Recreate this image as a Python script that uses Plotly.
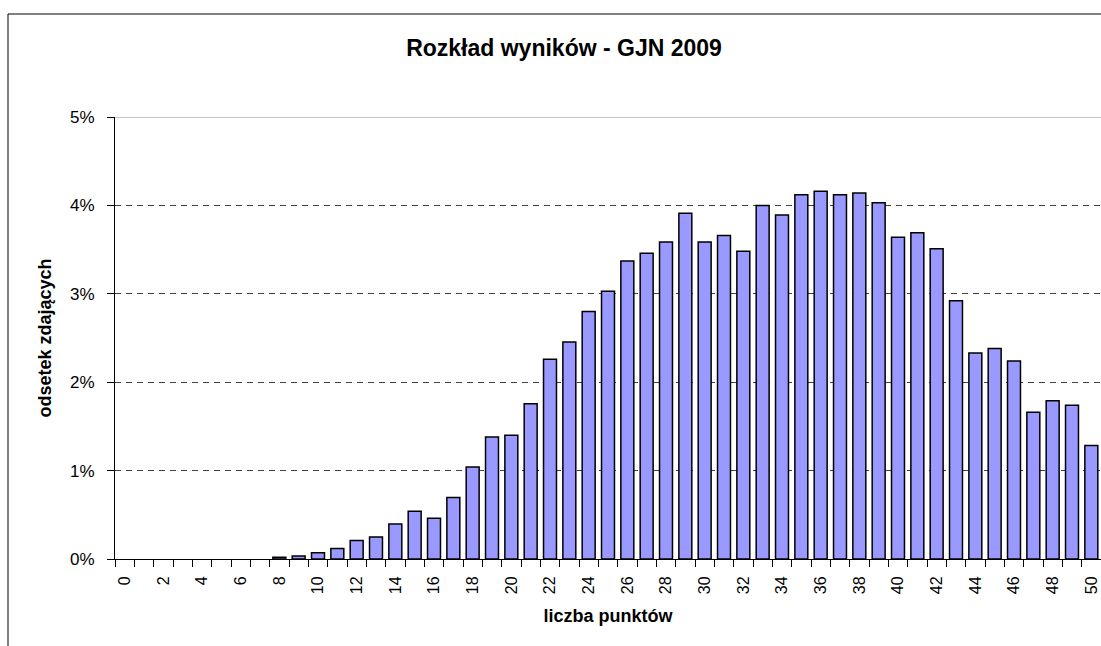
import plotly.graph_objects as go

# Data
scores = [str(i) for i in range(51)]
share_pct = [0, 0, 0, 0, 0, 0, 0, 0,
             0.02, 0.035, 0.07, 0.12, 0.21, 0.25, 0.395, 0.54, 0.46, 0.695, 1.04, 1.38,
             1.40, 1.755, 2.26, 2.455, 2.80, 3.03, 3.37, 3.46, 3.585, 3.91,
             3.585, 3.66, 3.48, 4.0, 3.89, 4.12, 4.16, 4.12, 4.14, 4.03,
             3.64, 3.69, 3.51, 2.92, 2.33, 2.38, 2.24, 1.66, 1.79, 1.74, 1.285]
tick_labels = [s if int(s) % 2 == 0 else "" for s in scores]
y_ticks = [0, 1, 2, 3, 4, 5]
y_tick_labels = ["0%", "1%", "2%", "3%", "4%", "5%"]

title_text = "Rozkład wyników - GJN 2009"
x_title = "liczba punktów"
y_title = "odsetek zdających"

FONT = "Liberation Sans, Arial, sans-serif"

fig = go.Figure()
fig.add_trace(go.Bar(
    x=scores, y=share_pct,
    marker=dict(color="#9999FF",
                line=dict(color="black", width=[0 if v == 0 else 1.5 for v in share_pct])),
    hoverinfo="x+y",
))

W, H = 1101, 646
L, R, T, B = 115, 0, 117, 87
pw = W - L - R
ph = H - T - B

fig.update_layout(
    width=W, height=H,
    margin=dict(l=L, r=R, t=T, b=B, pad=0),
    paper_bgcolor="white", plot_bgcolor="white",
    font=dict(family=FONT, color="black", size=16),
    bargap=0.33,
    showlegend=False,
    title=dict(text="<b>" + title_text + "</b>", font=dict(size=23, family=FONT),
               x=564 / W, xanchor="center", xref="container",
               y=1 - 48 / H, yanchor="middle", yref="container"),
    xaxis=dict(
        type="category",
        range=[-0.5, 50.5],
        tickmode="array", tickvals=scores, ticktext=tick_labels,
        tickangle=-90,
        tickson="boundaries",
        ticks="outside", ticklen=7, tickcolor="black", tickwidth=1,
        showline=True, linecolor="black", linewidth=1,
        showgrid=False, zeroline=False,
        tickfont=dict(size=16),
        ticklabelstandoff=10,
        title=dict(text="<b>" + x_title + "</b>", font=dict(size=18), standoff=16),
    ),
    yaxis=dict(
        range=[0, 5],
        tickmode="array", tickvals=y_ticks, ticktext=y_tick_labels,
        ticks="outside", ticklen=7, tickcolor="black", tickwidth=1,
        showline=True, linecolor="black", linewidth=1,
        showgrid=True, gridcolor="#404040", gridwidth=1, griddash="6px,5px",
        zeroline=False,
        tickfont=dict(size=17),
        ticklabelstandoff=9,
        title=dict(text="<b>" + y_title + "</b>", font=dict(size=18), standoff=13),
    ),
)

# top gridline drawn solid grey as in the reference
fig.add_shape(type="line", xref="paper", yref="y", x0=0, x1=1, y0=5, y1=5,
              line=dict(color="#909090", width=1), layer="above")
# chart-area border (extends past the right and bottom edges of the view)
fig.add_shape(type="rect", xref="paper", yref="paper",
              x0=(8 - L) / pw, x1=1.05, y0=-0.4, y1=(H - B - 14) / ph,
              line=dict(color="black", width=1), fillcolor="rgba(0,0,0,0)", layer="below")

fig.write_html("out.html", config={"displayModeBar": False},
               post_script="document.body.style.margin='0';")
